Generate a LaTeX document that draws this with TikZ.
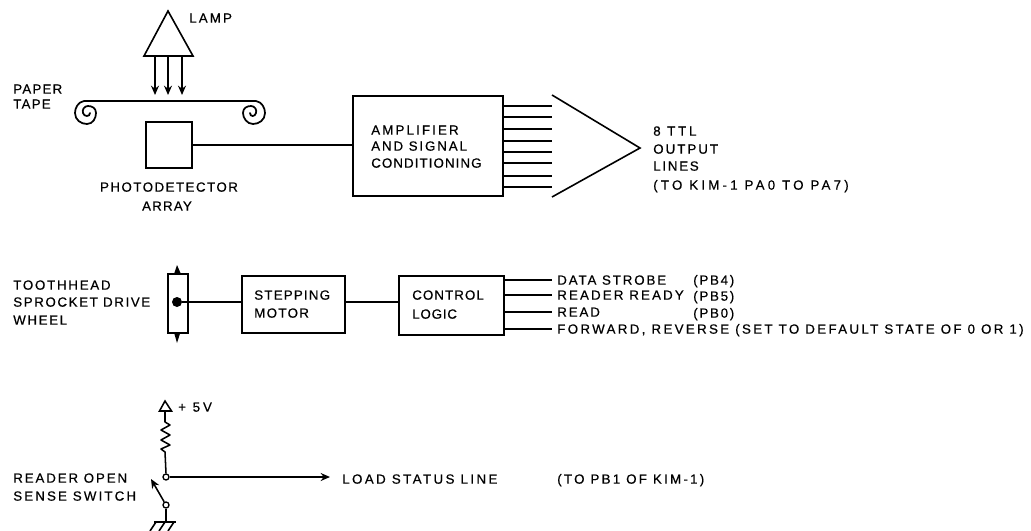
\documentclass[tikz,border=0pt]{standalone}
\usepackage{fontspec}
\setmainfont[FakeBold=0.5]{Liberation Sans}
\usetikzlibrary{arrows.meta}
\tikzset{
  ln/.style={line width=1.15pt,black},
  boxn/.style={draw,line width=1.3pt,inner sep=0pt,anchor=north west},
  ls/.style={font=\fontsize{10}{11}\selectfont\addfontfeature{LetterSpace=#1}},
  lbl/.style={anchor=west,inner sep=0pt,text height=7pt,text depth=0pt,ls=15},
  arr/.style={ln,-{Stealth[length=7pt,width=6pt]}},
  spiral/.style={line width=1.3pt,line cap=round}
}
\begin{document}
\begin{tikzpicture}[x=0.75pt,y=-0.75pt]
\useasboundingbox (0,0) rectangle (1031,531);
% lamp
\coordinate (lampA) at (168,11);
\coordinate (lampL) at (144,56);
\coordinate (lampR) at (193,56);
\draw[line width=1.2pt,line join=miter] (lampA) -- (lampL) -- (lampR) -- cycle;
\node[lbl,ls=16] (lamp) at (189,18) {LAMP};
\foreach \n/\x in {a/155,b/168,c/182}{
  \coordinate (s\n) at (\x,56);
  \coordinate (e\n) at (\x,95);
  \draw[arr] (s\n) -- (e\n);
}
% tape
\coordinate (tapeL) at (84,101);
\coordinate (tapeR) at (256,101);
\draw[ln] (tapeL) -- (tapeR);
\draw[spiral] (tapeL) .. controls (78,102) and (75,108) .. (75,113) .. controls (75,120) and (81,124) .. (87,124) .. controls (93,124) and (96,118) .. (96,113) .. controls (96,108) and (92,106) .. (88,106) .. controls (84,106) and (82,110) .. (83,113) .. controls (84,117) and (90,117) .. (90,113);
\draw[spiral] (tapeR) .. controls (262,102) and (265,108) .. (265,113) .. controls (265,120) and (259,124) .. (253,124) .. controls (247,124) and (243,118) .. (243,113) .. controls (243,108) and (247,106) .. (251,106) .. controls (255,106) and (257,110) .. (256,113) .. controls (255,117) and (250,117) .. (250,113);
\node[lbl,ls=9] (paper) at (13,89) {PAPER};
\node[lbl,ls=9] (tape) at (13,104) {TAPE};
% detector
\node[boxn,minimum width=34.5pt,minimum height=34.5pt] (det) at (145,121) {};
\node[lbl,anchor=center,ls=11] (photo) at (169,187) {PHOTODETECTOR};
\node[lbl,anchor=center,ls=9] (array) at (167,206) {ARRAY};
% amplifier
\node[boxn,minimum width=112.5pt,minimum height=75pt] (amp) at (352,95) {};
\node[lbl,ls=16] (t1) at (371,130) {AMPLIFIER};
\node[lbl,ls=14] (t2) at (371,146) {AND SIGNAL};
\node[lbl,ls=8] (t3) at (371,163) {CONDITIONING};
\draw[ln] (det.east |- 0,145) -- (amp.west |- 0,145);
\foreach \y in {106,117,129,141,152,163,176,187}{
  \coordinate (o) at (552,\y);
  \draw[ln] (amp.east |- o) -- (o);
}
% output triangle
\coordinate (trT) at (552,95);
\coordinate (trA) at (640,148);
\coordinate (trB) at (552,197);
\draw[line width=1.2pt] (trT) -- (trA) -- (trB);
\node[lbl,ls=21] (n1) at (653,131) {8 TTL};
\node[lbl,ls=15] (n2) at (653,149) {OUTPUT};
\node[lbl,ls=13] (n3) at (653,166) {LINES};
\node[lbl,ls=24] (n4) at (653,185) {(TO KIM-1 PA0 TO PA7)};
% wheel
\node[lbl,ls=13] (w1) at (13,285) {TOOTHHEAD};
\node[lbl,ls=12] (w2) at (13,302) {SPROCKET DRIVE};
\node[lbl,ls=12] (w3) at (13,320) {WHEEL};
\node[boxn,minimum width=15pt,minimum height=44.25pt] (wheel) at (167,273) {};
\coordinate (wT) at (177,265);
\coordinate (wB) at (177,343);
\fill (wheel.north) ++(-3.5,0) -- (wT) -- ++(3.5,8) -- cycle;
\fill (wheel.south) ++(-3.5,0) -- (wB) -- ++(3.5,-11) -- cycle;
\node[circle,fill,minimum size=7.5pt,inner sep=0pt] (hub) at (177,302) {};
% motor
\node[boxn,minimum width=77.25pt,minimum height=42.75pt] (motor) at (241,275) {};
\node[lbl,ls=9] (m1) at (254,295) {STEPPING};
\node[lbl,ls=10] (m2) at (254,313) {MOTOR};
\draw[ln] (hub) -- (motor.west |- hub);
% control
\node[boxn,minimum width=78.75pt,minimum height=44.25pt] (ctl) at (398,275) {};
\node[lbl,ls=8] (c1) at (412,295) {CONTROL};
\node[lbl,ls=6] (c2) at (412,314) {LOGIC};
\draw[ln] (motor.east |- hub) -- (ctl.west |- hub);
% control outputs
\node[lbl,ls=14] (d1) at (557,280) {DATA STROBE};
\node[lbl,ls=16] (d2) at (557,295) {READER READY};
\node[lbl,ls=14] (d3) at (557,312) {READ};
\node[lbl,ls=17.5] (d4) at (557,329) {FORWARD, REVERSE (SET TO DEFAULT STATE OF 0 OR 1)};
\node[lbl,ls=13] (p1) at (693,280) {(PB4)};
\node[lbl,ls=13] (p2) at (693,296) {(PB5)};
\node[lbl,ls=13] (p3) at (693,313) {(PB0)};
\foreach \i in {1,2,3,4}{
  \draw[ln,shorten >=3.5pt] (ctl.east |- d\i) -- (d\i.west);
}
% switch circuit
\coordinate (vA) at (165,401);
\coordinate (vL) at (159.5,411);
\coordinate (vR) at (171.5,411);
\draw[line width=1.15pt] (vA) -- (vL) -- (vR) -- cycle;
\node[lbl,ls=22] (vcc) at (178,407) {+ 5V};
\node[circle,draw,line width=1pt,minimum size=4.5pt,inner sep=0pt] (j1) at (166,477) {};
\node[circle,draw,line width=1pt,minimum size=4.5pt,inner sep=0pt] (j2) at (166,505) {};
\coordinate (rT) at (165,422);
\coordinate (rB) at (165,452);
\draw[ln,line join=round] (165,411) -- (rT) -- (170,425) -- (161,430) -- (170,435) -- (161,440) -- (170,445) -- (161,449) -- (rB) -- (j1.north);
\node[lbl,ls=18] (load) at (342,479) {LOAD STATUS LINE};
\node[lbl,ls=17] (to) at (557,479) {(TO PB1 OF KIM-1)};
\draw[arr,shorten >=9pt] (j1) -- (j1 -| load.west);
\node[lbl,ls=14] (s1) at (13,478) {READER OPEN};
\node[lbl,ls=16] (s2) at (13,496) {SENSE SWITCH};
\coordinate (swTip) at (151,479);
\draw[arr] (j2) -- (swTip);
\coordinate (gnd) at (166,521);
\draw[ln] (j2) -- (gnd);
\draw[line width=1.2pt] (154,522) -- (176,522);
\foreach \x in {156,165,174}{
  \draw[line width=1.2pt] (\x,522) -- (\x-6,531);
}
\end{tikzpicture}
\end{document}
